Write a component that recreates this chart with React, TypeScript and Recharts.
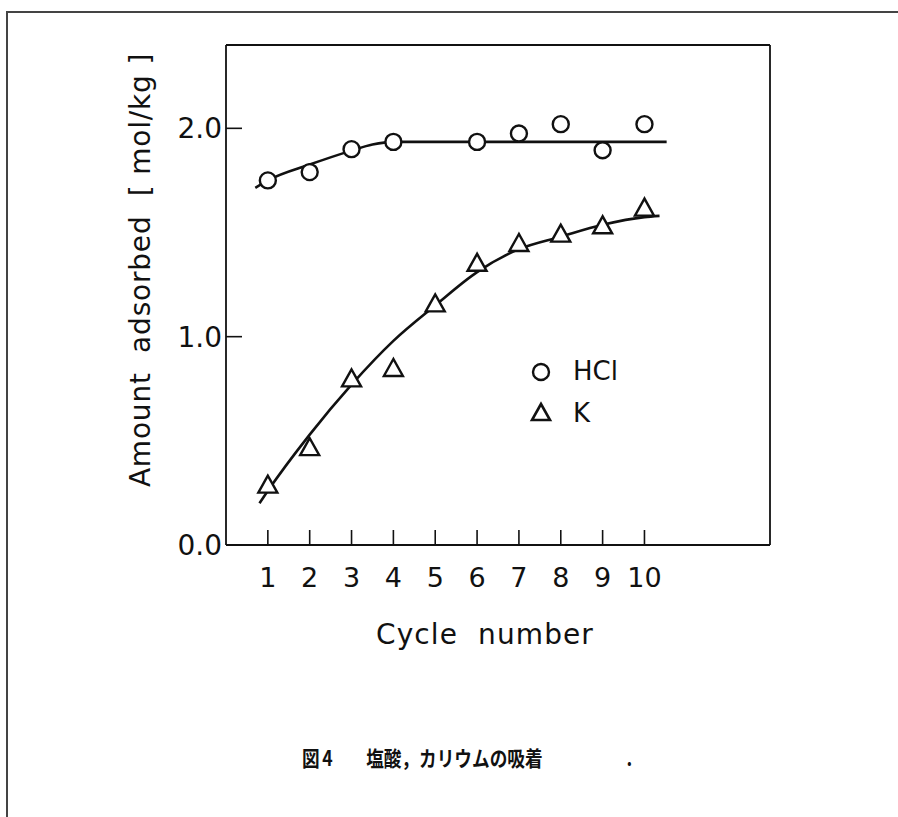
import React from 'react';
import { ComposedChart, Line, Scatter, XAxis, YAxis, Legend } from 'recharts';

// measured points
const hclCycles = [1, 2, 3, 4, 6, 7, 8, 9, 10];
const hclValues = [1.75, 1.79, 1.9, 1.935, 1.935, 1.975, 2.02, 1.895, 2.02];
const kCycles = [1, 2, 3, 4, 5, 6, 7, 8, 9, 10];
const kValues = [0.28, 0.46, 0.79, 0.84, 1.15, 1.345, 1.44, 1.485, 1.525, 1.61];

// hand-drawn fitted curves
const hclFitX = [0.7, 1, 2, 3, 3.5, 4, 6, 8, 10.53];
const hclFitY = [1.714, 1.75, 1.826, 1.893, 1.922, 1.935, 1.935, 1.935, 1.935];
const kFitX = [0.8, 1, 2, 3, 4, 5, 6, 7, 8, 9, 10, 10.36];
const kFitY = [0.2, 0.26, 0.53, 0.77, 0.98, 1.15, 1.31, 1.42, 1.48, 1.537, 1.574, 1.58];

const xTicks = [1, 2, 3, 4, 5, 6, 7, 8, 9, 10];
const yTicks = [0, 1, 2];

const toPoints = (xs: number[], ys: number[]) => xs.map((x, i) => ({ x, y: ys[i] }));

const hclData = toPoints(hclCycles, hclValues);
const kData = toPoints(kCycles, kValues);
const hclFit = toPoints(hclFitX, hclFitY);
const kFit = toPoints(kFitX, kFitY);

const INK = '#111';
const FONT = '"DejaVu Sans", sans-serif';

const CircleMark = (p: any) => (
    <circle cx={p.cx} cy={p.cy} r={8} fill="#fff" stroke={INK} strokeWidth={2.4} />
);

const TriangleMark = (p: any) => (
    <polygon
        points={`${p.cx},${p.cy - 11} ${p.cx - 9.5},${p.cy + 6} ${p.cx + 9.5},${p.cy + 6}`}
        fill="#fff"
        stroke={INK}
        strokeWidth={2.4}
    />
);

const BottomTick = (p: any) => (
    <g>
        <line x1={p.x} y1={p.y} x2={p.x} y2={p.y - 15} stroke={INK} strokeWidth={1.6} />
        <text x={p.x} y={p.y + 42} textAnchor="middle" fontSize={27} fill={INK} fontFamily={FONT}>
            {p.payload.value}
        </text>
    </g>
);

const TopTick = (p: any) => (
    <line x1={p.x} y1={p.y} x2={p.x} y2={p.y + 14} stroke={INK} strokeWidth={1.6} />
);

const LeftTick = (p: any) => (
    <g>
        <line x1={p.x} y1={p.y} x2={p.x + 16} y2={p.y} stroke={INK} strokeWidth={1.6} />
        <text x={p.x - 4} y={p.y + 10} textAnchor="end" fontSize={28} fill={INK} fontFamily={FONT}>
            {Number(p.payload.value).toFixed(1)}
        </text>
    </g>
);

const RightTick = (p: any) => (
    <line x1={p.x} y1={p.y} x2={p.x - 17} y2={p.y} stroke={INK} strokeWidth={1.6} />
);

const renderLegend = () => (
    <svg width={120} height={80}>
        <circle cx={12} cy={16} r={8} fill="#fff" stroke={INK} strokeWidth={2.4} />
        <text x={44} y={24} fontSize={26} fill={INK} fontFamily={FONT}>HCl</text>
        <polygon points="12,48 3,64 21,64" fill="#fff" stroke={INK} strokeWidth={2.6} />
        <text x={44} y={66} fontSize={26} fill={INK} fontFamily={FONT}>K</text>
    </svg>
);

const App: React.FC = () => {
    return (
        <div style={{ position: 'absolute', left: 0, top: 0, width: 898, height: 817, background: '#fff' }}>
            {/* page frame */}
            <div
                style={{
                    position: 'absolute',
                    left: 6,
                    top: 11,
                    width: 892,
                    height: 806,
                    borderTop: '2px solid #444',
                    borderLeft: '2px solid #444',
                }}
            />
            <ComposedChart
                width={898}
                height={817}
                margin={{ top: 35, right: 118, left: 166, bottom: 212 }}
                style={{ position: 'absolute', left: 0, top: 0 }}
            >
                <XAxis
                    dataKey="x"
                    type="number"
                    domain={[0, 13]}
                    ticks={xTicks}
                    interval={0}
                    height={60}
                    tickSize={0}
                    tickMargin={0}
                    tickLine={false}
                    axisLine={{ stroke: INK, strokeWidth: 1.8 }}
                    tick={BottomTick}
                    label={{
                        content: () => (
                            <text x={485} y={644} textAnchor="middle" fontSize={28} letterSpacing={1.1} fill={INK} fontFamily={FONT} style={{ whiteSpace: 'pre' }}>
                                {'Cycle  number'}
                            </text>
                        ),
                    }}
                />
                <XAxis
                    xAxisId="top"
                    orientation="top"
                    dataKey="x"
                    type="number"
                    domain={[0, 13]}
                    ticks={xTicks}
                    interval={0}
                    height={10}
                    tickSize={0}
                    tickMargin={0}
                    tickLine={false}
                    axisLine={{ stroke: INK, strokeWidth: 1.8 }}
                    tick={TopTick}
                />
                <YAxis
                    type="number"
                    domain={[0, 2.4]}
                    ticks={yTicks}
                    interval={0}
                    width={60}
                    tickSize={0}
                    tickMargin={0}
                    tickLine={false}
                    axisLine={{ stroke: INK, strokeWidth: 1.8 }}
                    tick={LeftTick}
                    label={{
                        content: () => (
                            <text transform="translate(150,270) rotate(-90)" x={0} y={0} textAnchor="middle" fontSize={28} letterSpacing={0.8} fill={INK} fontFamily={FONT} style={{ whiteSpace: 'pre' }}>
                                {'Amount  adsorbed  [ mol/kg ]'}
                            </text>
                        ),
                    }}
                />
                <YAxis
                    yAxisId="right"
                    orientation="right"
                    type="number"
                    domain={[0, 2.4]}
                    ticks={yTicks}
                    interval={0}
                    width={10}
                    tickSize={0}
                    tickMargin={0}
                    tickLine={false}
                    axisLine={{ stroke: INK, strokeWidth: 1.8 }}
                    tick={RightTick}
                />
                <Line data={hclFit} dataKey="y" type="monotone" stroke={INK} strokeWidth={2.6} dot={false} isAnimationActive={false} />
                <Line data={kFit} dataKey="y" type="monotone" stroke={INK} strokeWidth={2.6} dot={false} isAnimationActive={false} />
                <Scatter data={hclData} dataKey="y" shape={CircleMark} isAnimationActive={false} />
                <Scatter data={kData} dataKey="y" shape={TriangleMark} isAnimationActive={false} />
                <Legend
                    layout="vertical"
                    align="center"
                    verticalAlign="middle"
                    content={renderLegend}
                    wrapperStyle={{ left: 529, top: 356, width: 120, height: 80 }}
                />
            </ComposedChart>
            <div
                style={{
                    position: 'absolute',
                    left: 302,
                    top: 744,
                    fontFamily: '"Noto Sans CJK JP", sans-serif',
                    fontWeight: 700,
                    fontSize: 21,
                    lineHeight: '26px',
                    color: INK,
                    whiteSpace: 'pre',
                    transform: 'scaleX(0.84)',
                    transformOrigin: '0 0',
                }}
            >
                図<span style={{ marginLeft: 3 }}>4</span>
                <span style={{ marginLeft: 40 }}>塩酸，カリウムの吸着</span>
                <span style={{ marginLeft: 100 }}>.</span>
            </div>
        </div>
    );
};

export default App;
